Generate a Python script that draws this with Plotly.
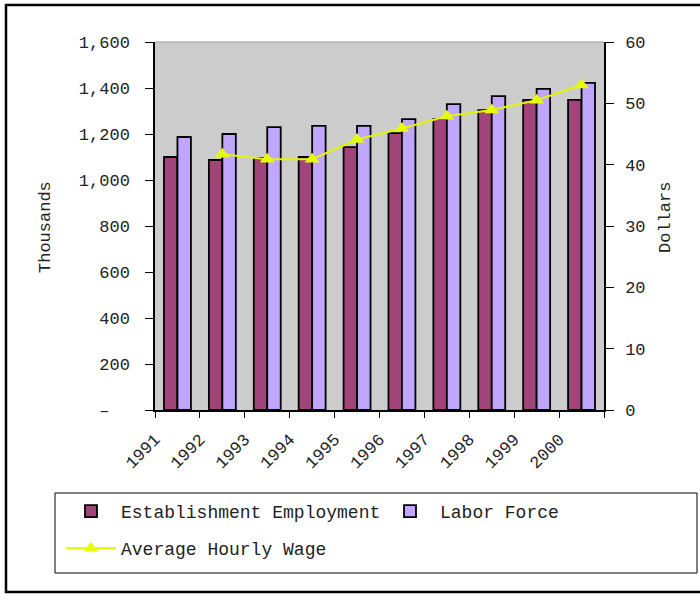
import plotly.graph_objects as go

years = [1991, 1992, 1993, 1994, 1995, 1996, 1997, 1998, 1999, 2000]
establishment = [1100, 1087, 1096, 1100, 1143, 1204, 1265, 1304, 1348, 1348]
labor_force = [1187, 1200, 1230, 1235, 1235, 1265, 1330, 1365, 1396, 1422]
hourly_wage = [None, 41.7, 40.9, 40.9, 44.1, 45.9, 47.9, 48.9, 50.5, 53.0]

left_ticks = [0, 200, 400, 600, 800, 1000, 1200, 1400, 1600]
left_labels = ["–\u00a0\u00a0", "200", "400", "600", "800", "1,000", "1,200", "1,400", "1,600"]
right_ticks = [0, 10, 20, 30, 40, 50, 60]
x_tickvals = [y - 0.5 for y in years] + [years[-1] + 0.5]
x_ticktext = [str(y) for y in years] + [""]

FONT = "Liberation Mono, Courier New, monospace"
TXT = "#222222"

# plot area in pixels
L, R, T, B = 155, 604, 42, 410
W, H = R - L, B - T


def px(x):
    return (x - L) / W


def py(y):
    return (B - y) / H


fig = go.Figure()
fig.add_trace(go.Bar(
    x=years, y=establishment, name="Establishment Employment",
    marker=dict(color="#A0447A", line=dict(color="black", width=1.8)),
    legend="legend",
))
fig.add_trace(go.Bar(
    x=years, y=labor_force, name="Labor Force",
    marker=dict(color="#C0A6FF", line=dict(color="black", width=1.8)),
    legend="legend2",
))
fig.add_trace(go.Scatter(
    x=years, y=hourly_wage, name="Average Hourly Wage", yaxis="y2",
    mode="lines+markers", connectgaps=False,
    line=dict(color="#E2F500", width=2),
    marker=dict(symbol="triangle-up", size=13, color="#E6FF00"),
    legend="legend3",
))

legend_common = dict(
    orientation="h", xanchor="left", yanchor="top",
    font=dict(family=FONT, size=18, color=TXT),
    bgcolor="rgba(0,0,0,0)", borderwidth=0, itemwidth=50,
)

fig.update_layout(
    width=700, height=594,
    margin=dict(l=L, r=700 - R, t=T, b=594 - B),
    paper_bgcolor="white", plot_bgcolor="#CCCCCC",
    barmode="group", bargap=0.4, bargroupgap=0,
    showlegend=True,
    legend=dict(x=px(61), y=py(493), **legend_common),
    legend2=dict(x=px(380), y=py(493), **legend_common),
    legend3=dict(x=px(61), y=py(530), **legend_common),
    xaxis=dict(
        range=[years[0] - 0.5, years[-1] + 0.5],
        tickmode="array", tickvals=x_tickvals, ticktext=x_ticktext,
        tickangle=-45, ticks="outside", ticklen=6, tickcolor="black",
        ticklabelstandoff=5,
        showline=True, linecolor="black", linewidth=1.5, showgrid=False,
        zeroline=False,
        tickfont=dict(family=FONT, size=17, color=TXT),
    ),
    yaxis=dict(
        range=[0, 1600], tickmode="array", tickvals=left_ticks, ticktext=left_labels,
        ticks="outside", ticklen=8, tickcolor="black", ticklabelstandoff=12,
        showline=True, linecolor="black", linewidth=1.5, showgrid=False, zeroline=False,
        tickfont=dict(family=FONT, size=17, color=TXT),
    ),
    yaxis2=dict(
        range=[0, 60], overlaying="y", side="right",
        tickmode="array", tickvals=right_ticks,
        ticks="outside", ticklen=8, tickcolor="black", ticklabelstandoff=8,
        showline=True, linecolor="black", linewidth=1.5, showgrid=False, zeroline=False,
        tickfont=dict(family=FONT, size=17, color=TXT),
    ),
    annotations=[
        dict(text="Thousands", x=px(45), y=py(227), xref="paper", yref="paper",
             showarrow=False, textangle=-90, xanchor="center", yanchor="middle",
             font=dict(family=FONT, size=17, color=TXT)),
        dict(text="Dollars", x=px(665), y=py(218), xref="paper", yref="paper",
             showarrow=False, textangle=-90, xanchor="center", yanchor="middle",
             font=dict(family=FONT, size=17, color=TXT)),
    ],
    shapes=[
        dict(type="line", xref="paper", yref="paper", x0=0, x1=1, y0=1, y1=1,
             line=dict(color="#999999", width=1)),
        dict(type="rect", xref="paper", yref="paper",
             x0=px(55), x1=px(697), y0=py(573), y1=py(493),
             line=dict(color="black", width=1)),
        dict(type="rect", xref="paper", yref="paper",
             x0=px(6), x1=px(720), y0=py(592), y1=py(5),
             line=dict(color="black", width=2.5)),
    ],
)

fig.write_html("out.html")
